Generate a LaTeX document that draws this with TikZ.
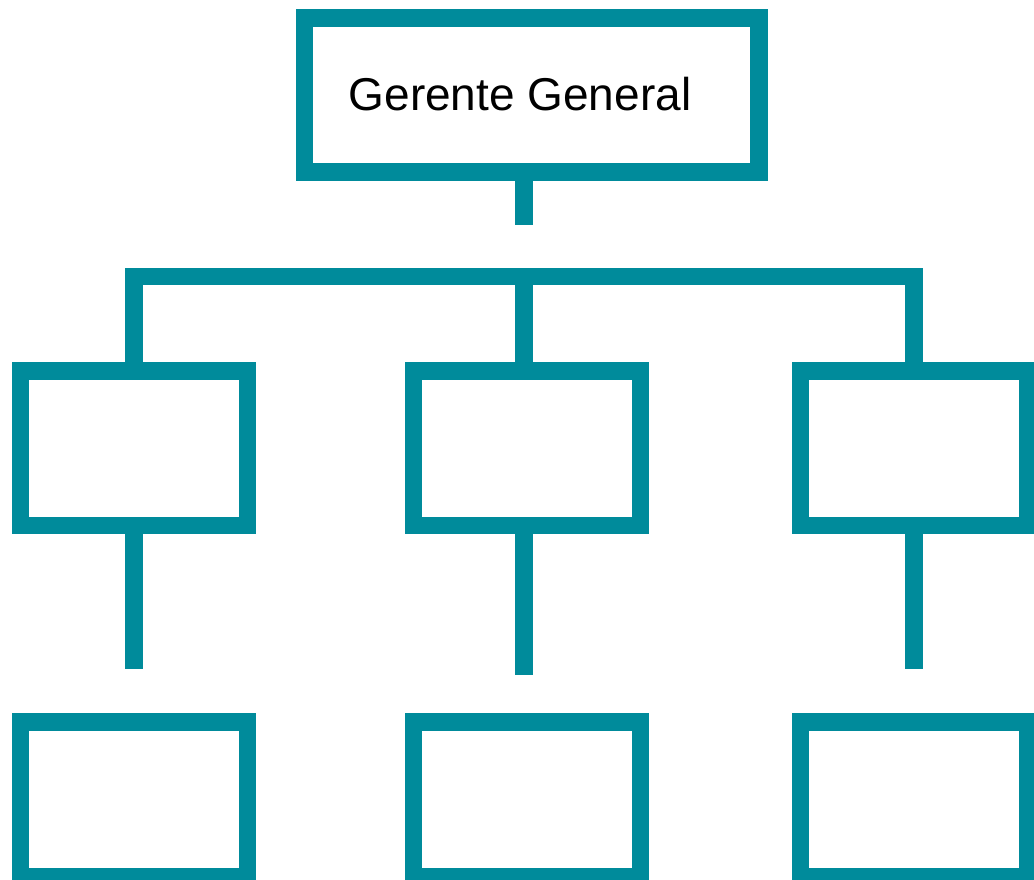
\documentclass[tikz,border=0pt]{standalone}
\usepackage{fontspec}
\setmainfont{Liberation Sans}
\definecolor{teal}{RGB}{0,139,155}
\begin{document}
\begin{tikzpicture}[x=1pt,y=-1pt,
  orgbox/.style={draw=teal, line width=17.6pt, rectangle, inner sep=0pt, outer sep=0pt, fill=white},
  smallbox/.style={orgbox, minimum width=227pt, minimum height=154.5pt},
  conn/.style={draw=teal, line width=17.6pt, line cap=butt, line join=miter}]
\useasboundingbox (0,0) rectangle (1034,879);
\clip (0,0) rectangle (1034,879);
% top box
\node[orgbox, minimum width=454.5pt, minimum height=154pt] (gg) at (531.7,95) {};
\node[anchor=base, font=\fontsize{46}{55}\selectfont, inner sep=0pt] (ggtext) at (520,110) {Gerente General};
% middle row
\node[smallbox] (m1) at (134,448.3) {};
\node[smallbox] (m2) at (527,448.3) {};
\node[smallbox] (m3) at (914,448.3) {};
% bottom row
\node[smallbox] (b1) at (134,799.2) {};
\node[smallbox] (b2) at (527,799.2) {};
\node[smallbox] (b3) at (914,799.2) {};
% coordinates
\coordinate (ggend) at (523.9,225.3);
\coordinate (bar) at (523.9,276.4);
\coordinate (e1) at (133.8,669.3);
\coordinate (e2) at (523.9,675);
\coordinate (e3) at (914,669.3);
% connectors
\draw[conn] (ggend |- gg.south) -- (ggend);
\draw[conn] (e1 |- m1.north) |- (bar) -| (e3 |- m3.north);
\draw[conn] (bar) -- (bar |- m2.north);
\draw[conn] (e1 |- m1.south) -- (e1);
\draw[conn] (e2 |- m2.south) -- (e2);
\draw[conn] (e3 |- m3.south) -- (e3);
\end{tikzpicture}
\end{document}
